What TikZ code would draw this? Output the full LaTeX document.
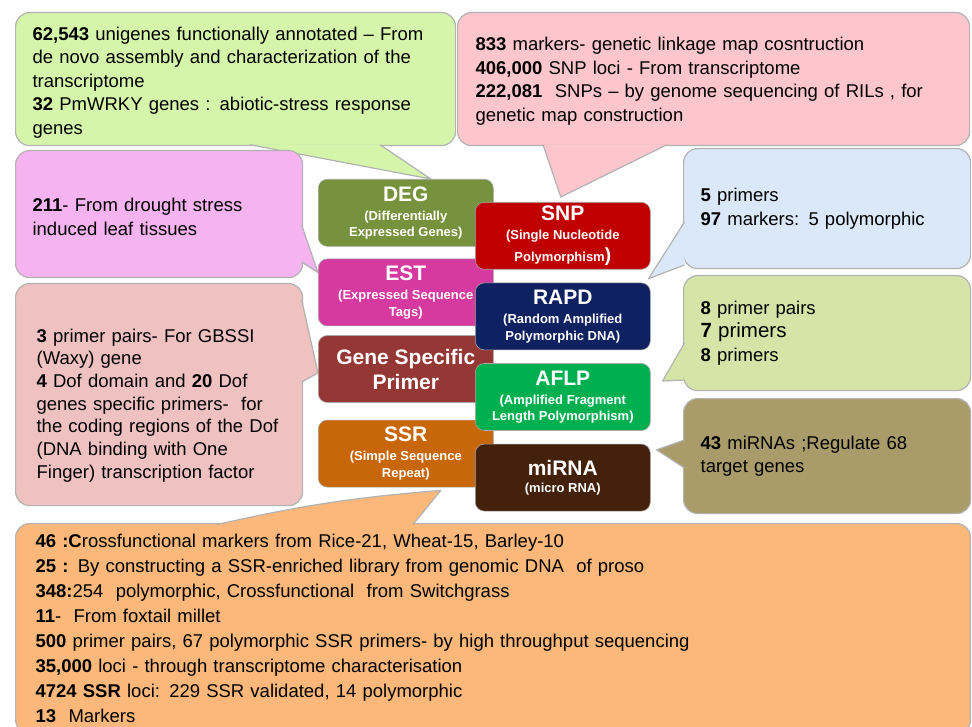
\documentclass[tikz,border=0pt]{standalone}
\usepackage{fontspec}
\setmainfont{Liberation Sans}
\usepackage{xcolor}
\usetikzlibrary{positioning,calc,backgrounds}
\definecolor{degc}{HTML}{76923C}
\definecolor{estc}{HTML}{D63AA0}
\definecolor{gspc}{HTML}{953735}
\definecolor{ssrc}{HTML}{C8660A}
\definecolor{snpc}{HTML}{C00000}
\definecolor{rapdc}{HTML}{0E2160}
\definecolor{aflpc}{HTML}{00B050}
\definecolor{mirnac}{HTML}{43210A}
\definecolor{limefill}{HTML}{D5F5AA}
\definecolor{rosefill}{HTML}{FCC6CC}
\definecolor{orchidfill}{HTML}{F5B3EF}
\definecolor{salmonfill}{HTML}{EFC1C1}
\definecolor{skyfill}{HTML}{DBE8F9}
\definecolor{sagefill}{HTML}{D6E4A8}
\definecolor{olivefill}{HTML}{A99C6A}
\definecolor{peachfill}{HTML}{FBB87A}
\newcommand{\mtitle}{\fontsize{21}{24}\selectfont}
\newcommand{\calltail}[4]{\fill[#1] #2 -- #3 -- #4 -- cycle; \draw[tailedge] #2 -- #3 -- #4;}

\begin{document}
\begin{tikzpicture}[x=1pt, y=-1pt]
  \tikzstyle{callout}=[rounded corners=14pt, draw=black!30, line width=1.2pt, anchor=north west, align=left, inner xsep=17pt, inner ysep=0pt, font=\fontsize{18.5}{23.5}\selectfont]
  \tikzstyle{tailedge}=[draw=black!30, line width=1.2pt, line join=round]
  \tikzstyle{marker}=[rounded corners=9pt, draw=black!35, line width=0.6pt, minimum width=175pt, minimum height=67pt, text=white, align=center, inner sep=2pt, font=\fontsize{13}{16.5}\selectfont\bfseries]

  \useasboundingbox (0,0) rectangle (972,727);

  \node[marker, fill=degc, anchor=north west] (deg) at (318,179) {{\mtitle DEG}\\[2.5pt](Differentially\\Expressed Genes)};
  \node[marker, fill=estc, below=12pt of deg] (est) {{\mtitle EST}\\[2.5pt](Expressed Sequence\\Tags)};
  \node[marker, fill=gspc, below=9pt of est, font=\fontsize{21}{25}\selectfont\bfseries] (gsp) {Gene Specific\\Primer};
  \node[marker, fill=ssrc, below=17pt of gsp] (ssr) {{\mtitle SSR}\\[2.5pt](Simple Sequence\\Repeat)};

  \node[marker, fill=snpc, anchor=north west] (snp) at (475,202) {{\mtitle SNP}\\[2.5pt](Single Nucleotide\\[4pt]Polymorphism{\fontsize{19}{19}\selectfont)}};
  \node[marker, fill=rapdc, below=13pt of snp] (rapd) {{\mtitle RAPD}\\[2.5pt](Random Amplified\\Polymorphic DNA)};
  \node[marker, fill=aflpc, below=13pt of rapd] (aflp) {{\mtitle AFLP}\\[2.5pt](Amplified Fragment\\Length Polymorphism)};
  \node[marker, fill=mirnac, below=13pt of aflp] (mirna) {{\mtitle miRNA}\\[1pt](micro RNA)};

  \begin{scope}[on background layer]
  \clip (0,0) rectangle (972,727);
  \fill[white] (0,0) rectangle (972,727);

  \node[callout, fill=limefill, minimum width=440pt, minimum height=133pt, text width=406pt] (degnote) at (15,12) {\rule{0pt}{20pt}\textbf{62,543} unigenes functionally annotated -- From\\de novo assembly and characterization of the\\transcriptome\\\textbf{32} PmWRKY genes : abiotic-stress response\\genes};
  \calltail{limefill}{($(degnote.south west)+(235,-1.5)$)}{($(deg.north)+(25,0)$)}{($(degnote.south west)+(365,-1.5)$)}

  \node[callout, fill=rosefill, minimum width=511pt, minimum height=133pt, text width=476pt, inner xsep=18pt] (snpnote) at (457,12) {\rule{0pt}{18pt}\textbf{833} markers- genetic linkage map cosntruction\\\textbf{406,000} SNP loci - From transcriptome\\\textbf{222,081}\ \ SNPs -- by genome sequencing of RILs , for\\genetic map construction};
  \calltail{rosefill}{($(snpnote.south west)+(86,-1.5)$)}{($(snp.north)+(-2,-5)$)}{($(snpnote.south west)+(210,-1.5)$)}

  \node[callout, fill=orchidfill, minimum width=287pt, minimum height=127pt, text width=253pt] (estnote) at (15,150) {\rule{0pt}{19pt}\textbf{211}- From drought stress\\induced leaf tissues};
  \calltail{orchidfill}{($(estnote.north east)+(-1.5,75)$)}{($(est.north west)+(0,14)$)}{($(estnote.north east)+(-1.5,112)$)}

  \node[callout, fill=salmonfill, minimum width=287pt, minimum height=222pt, text width=245pt, inner xsep=21pt, font=\fontsize{18.5}{22.7}\selectfont] (gspnote) at (15,283) {\rule{0pt}{35pt}\textbf{3} primer pairs- For GBSSI\\(Waxy) gene\\\textbf{4} Dof domain and \textbf{20} Dof\\genes specific primers-\ \ for\\the coding regions of the Dof\\(DNA binding with One\\Finger) transcription factor};
  \calltail{salmonfill}{($(gspnote.north east)+(-1.5,17)$)}{($(gsp.west)+(0,4)$)}{($(gspnote.north east)+(-1.5,99)$)}

  \node[callout, fill=skyfill, minimum width=287pt, minimum height=120pt, text width=253pt] (rapdnote) at (683,148) {\textbf{5} primers\\\textbf{97} markers: 5 polymorphic};
  \calltail{skyfill}{($(rapdnote.north west)+(1.5,74)$)}{($(rapd.north east)+(-2,-4)$)}{($(rapdnote.north west)+(1.5,117)$)}

  \node[callout, fill=sagefill, minimum width=287pt, minimum height=115pt, text width=253pt] (aflpnote) at (683,275) {\textbf{8} primer pairs\\{\fontsize{20.5}{23.5}\selectfont\textbf{7} primers}\\\textbf{8} primers};
  \calltail{sagefill}{($(aflpnote.north west)+(1.5,68)$)}{($(aflp.east)+(12,-16)$)}{($(aflpnote.north west)+(1.5,105)$)}

  \node[callout, fill=olivefill, minimum width=287pt, minimum height=115pt, text width=253pt] (mirnanote) at (683,398) {\textbf{43} miRNAs ;Regulate 68\\target genes};
  \calltail{olivefill}{($(mirnanote.north west)+(1.5,42)$)}{($(mirna.north east)+(6,6)$)}{($(mirnanote.north west)+(1.5,70)$)}

  \node[callout, fill=peachfill, minimum width=955pt, minimum height=210pt, text width=915pt, inner xsep=20pt, font=\fontsize{18.5}{25}\selectfont] (ssrnote) at (15,523) {\textbf{46 :C}rossfunctional markers from Rice-21, Wheat-15, Barley-10\\\textbf{25 :} By constructing a SSR-enriched library from genomic DNA\ \ of proso\\\textbf{348:}254\ \ polymorphic, Crossfunctional\ \ from Switchgrass\\\textbf{11}-\ \ From foxtail millet\\\textbf{500} primer pairs, 67 polymorphic SSR primers- by high throughput sequencing\\\textbf{35,000} loci - through transcriptome characterisation\\\textbf{4724 SSR} loci: 229 SSR validated, 14 polymorphic\\\textbf{13}\ \ Markers};
  \fill[peachfill] ($(ssrnote.north west)+(202,1.5)$) to[bend left=4] ($(ssr.south)+(35,3)$) -- ($(ssrnote.north west)+(398,1.5)$) -- cycle;
  \draw[tailedge] ($(ssrnote.north west)+(202,1.5)$) to[bend left=4] ($(ssr.south)+(35,3)$) -- ($(ssrnote.north west)+(398,1.5)$);
  \end{scope}
\end{tikzpicture}
\end{document}
